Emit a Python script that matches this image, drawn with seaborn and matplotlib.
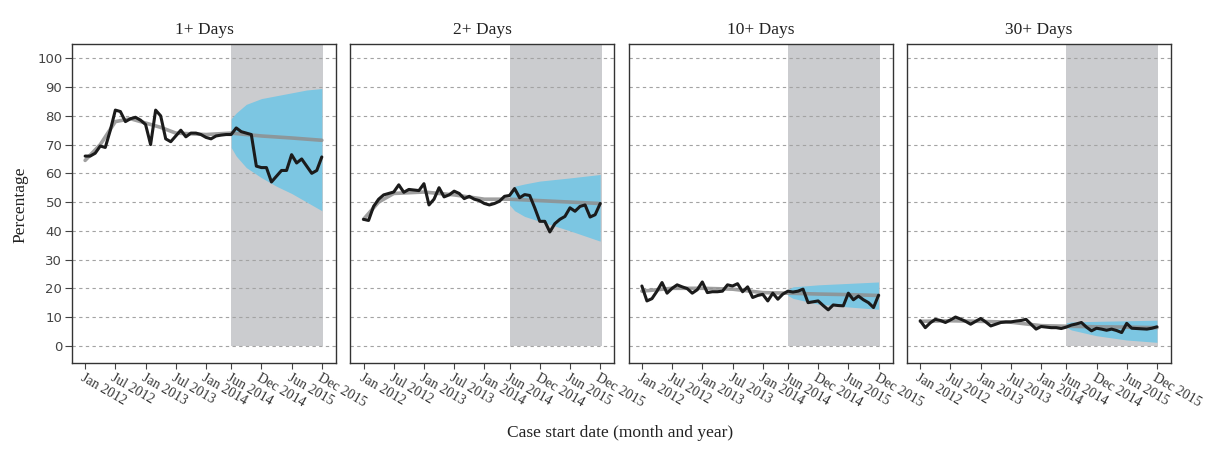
# Recreate the four-panel "days" percentage chart with forecast bands
import numpy as np
import pandas as pd
import matplotlib.pyplot as plt
import seaborn as sns

sns.set_theme(style='white')
plt.rcParams['font.family'] = ['Liberation Serif', 'DejaVu Serif']

# 1. Data
panel_titles = ['1+ Days', '2+ Days', '10+ Days', '30+ Days']
months = list(range(48))  # Jan 2012 .. Dec 2015
tick_months = [0, 6, 12, 18, 24, 29, 35, 41, 47]
tick_labels = ['Jan 2012', 'Jul 2012', 'Jan 2013', 'Jul 2013', 'Jan 2014',
               'Jun 2014', 'Dec 2014', 'Jun 2015', 'Dec 2015']
y_ticks = [0, 10, 20, 30, 40, 50, 60, 70, 80, 90, 100]

# observed monthly percentages
obs_1 = [66, 66, 67, 69.5, 69, 75, 82, 81.5, 78, 79, 79.5, 78.5,
         77, 70, 82, 80, 72, 71, 73, 75, 72.7, 74, 74, 73.5,
         72.5, 72, 73, 73.3, 73.5, 73.5, 75.8, 74.5, 74, 73.5, 62.5, 62,
         62, 57, 59, 61, 61, 66.5, 63.6, 65, 62.5, 60, 61, 65.7]
obs_2 = [44, 43.6, 48.5, 51, 52.5, 53, 53.5, 56, 53.4, 54.4, 54.2, 54,
         56.4, 49, 51, 55, 51.8, 52.5, 53.8, 53, 51.2, 52, 51, 50.5,
         49.5, 49, 49.5, 50.3, 52, 52.3, 54.7, 51.5, 52.6, 52.3, 48, 43.3,
         43.3, 39.6, 42.5, 44, 45, 48, 46.8, 48.5, 49, 44.8, 45.6, 49.5]
obs_3 = [20.8, 15.6, 16.4, 19, 22, 18.3, 20, 21.2, 20.5, 19.9, 18.3, 19.5,
         22.2, 18.5, 18.8, 18.8, 19, 21.2, 20.8, 21.6, 18.8, 20.5, 16.8, 17.5,
         17.9, 15.6, 18.3, 16.2, 18, 19, 18.7, 19, 19.7, 15, 15.3, 15.6,
         14, 12.5, 14.2, 14, 13.9, 18.3, 16, 17.3, 16, 15, 13.3, 17.6]
obs_4 = [8.7, 6.3, 8, 9.2, 8.8, 8.1, 9, 10, 9.3, 8.5, 7.5, 8.5,
         9.5, 8.3, 6.9, 7.5, 8.1, 8.3, 8.3, 8.6, 8.8, 9.2, 7.5, 5.8,
         6.7, 6.5, 6.3, 6.3, 6, 6.5, 7.2, 7.6, 8.1, 6.5, 5.2, 6.1,
         5.8, 5.4, 5.8, 5.3, 4.6, 7.8, 6.1, 6, 5.9, 5.8, 6.1, 6.6]

# fitted trend (gray line)
trend_months_1 = [0, 3, 6, 9, 12, 15, 18, 24, 29, 35, 41, 47]
trend_1 = [64.5, 70, 78, 79, 77.5, 76, 74, 73.5, 74, 73, 72.3, 71.5]
trend_months_2 = [0, 3, 6, 12, 18, 24, 29, 35, 41, 47]
trend_2 = [44, 50, 53, 53.5, 52.5, 51, 51, 50.5, 50, 49.5]
trend_months_34 = [0, 6, 12, 18, 24, 29, 35, 41, 47]
trend_3 = [19, 20, 20, 19.7, 18.5, 18.3, 18, 17.8, 17.5]
trend_4 = [8.5, 8.7, 8.5, 8.2, 7, 6.8, 6.6, 6.5, 6.3]

# forecast interval (blue band)
band_months_1 = [29, 30, 32, 35, 38, 41, 44, 47]
band_upper_1 = [79, 81, 84, 86, 87, 88, 89, 89.5]
band_lower_1 = [69, 66, 62, 58.5, 55.5, 53, 50, 47]
band_months_2 = [29, 30, 32, 35, 41, 47]
band_upper_2 = [53.5, 55.5, 56.3, 57.3, 58.4, 59.6]
band_lower_2 = [49, 47, 45, 43.3, 40, 36.4]
band_months_34 = [29, 30, 35, 41, 47]
band_upper_3 = [19.5, 20.5, 21.2, 21.7, 22.2]
band_lower_3 = [17.5, 16.5, 14.5, 13.5, 12.7]
band_upper_4 = [8, 8.3, 8.5, 8.7, 8.9]
band_lower_4 = [6.5, 5.5, 3.5, 2, 1.2]

# forecast period shading
shade_start = 29
shade_end = 47.3

panels = [
    (obs_1, trend_months_1, trend_1, band_months_1, band_upper_1, band_lower_1),
    (obs_2, trend_months_2, trend_2, band_months_2, band_upper_2, band_lower_2),
    (obs_3, trend_months_34, trend_3, band_months_34, band_upper_3, band_lower_3),
    (obs_4, trend_months_34, trend_4, band_months_34, band_upper_4, band_lower_4),
]

# 2. Plot
fig, axes = plt.subplots(1, 4, figsize=(12.13, 4.49), dpi=100, sharey=True)
fig.subplots_adjust(left=0.0594, right=0.9654, bottom=0.1915, top=0.902, wspace=0.055)

for i, ax in enumerate(axes):
    obs, tm, tr, bm, bu, bl = panels[i]
    obs_df = pd.DataFrame({'month': months, 'pct': obs})
    trend_df = pd.DataFrame({'month': tm, 'pct': tr})

    ax.set_ylim(-6, 105)
    ax.set_xlim(-2.6, 49.8)
    ax.set_axisbelow(True)

    # gray forecast window from 0 up to the top of the axes
    ax.fill_between([shade_start, shade_end], 0, 105, color='#cbcccf', lw=0, zorder=0.2)
    ax.fill_between(bm, bl, bu, color='#7cc6e2', lw=0, zorder=1)

    sns.lineplot(data=trend_df, x='month', y='pct', ax=ax, color='#8f8f8f',
                 lw=2.6, alpha=0.85, zorder=2)
    sns.lineplot(data=obs_df, x='month', y='pct', ax=ax, color='#1b1b1b',
                 lw=2.2, zorder=3)

    ax.yaxis.grid(True, linestyle=(0, (3, 3)), color='#a3a3a3', lw=0.8)
    ax.xaxis.grid(False)

    ax.set_title(panel_titles[i], fontsize=12.5, color='#222222', pad=7)
    ax.set_xlabel('')
    ax.set_ylabel('')

    ax.set_xticks(tick_months)
    ax.set_xticklabels(tick_labels, rotation=-30, ha='left', va='top',
                       rotation_mode='anchor', fontsize=10, color='#333333')
    ax.tick_params(axis='x', bottom=True, length=4, width=0.8, color='#444444', pad=2)

    for s in ax.spines.values():
        s.set_color('#333333')
        s.set_linewidth(1.0)

    if i == 0:
        ax.set_yticks(y_ticks)
        ax.tick_params(axis='y', left=True, length=5, width=0.8, color='#444444', pad=2)
        for lab in ax.get_yticklabels():
            lab.set_family('DejaVu Sans')
            lab.set_fontsize(9.5)
            lab.set_color('#444444')
    else:
        ax.tick_params(axis='y', left=False)

fig.text(0.511, 0.035, 'Case start date (month and year)', ha='center', va='center',
         fontsize=12.5, color='#222222')
fig.text(0.017, 0.545, 'Percentage', ha='center', va='center', rotation=90,
         fontsize=12.5, color='#222222')

plt.savefig('out.png', dpi=100)
